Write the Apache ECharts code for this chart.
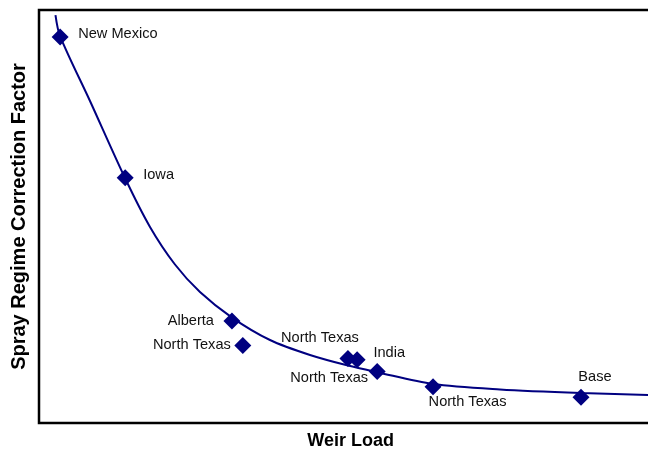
<!DOCTYPE html>
<html>
<head>
<meta charset="utf-8">
<script src="https://cdn.jsdelivr.net/npm/echarts@6/dist/echarts.min.js"></script>
<style>
  html, body { margin: 0; padding: 0; background: #fff; }
  #chart { width: 648px; height: 450px; }
</style>
</head>
<body>
<div id="chart"></div>
<script>
// Plant sites and their measured spray-regime correction factors
const siteNames = ['New Mexico', 'Iowa', 'Alberta', 'North Texas', 'North Texas', 'North Texas', 'India', 'North Texas', 'Base'];
const weirLoad = [0.39, 1.59, 3.56, 3.76, 5.70, 5.87, 6.24, 7.27, 10.0];
const correctionFactor = [3.79, 2.70, 1.59, 1.40, 1.30, 1.29, 1.20, 1.08, 1.00];

// Fitted correction curve
const curveLoad = [0.304, 0.387, 0.941, 1.587, 2.048, 2.509, 2.970, 3.561, 4.262, 5.000, 5.701, 6.236, 7.269, 8.506, 10.0, 11.236, 11.5];
const curveFactor = [3.961, 3.800, 3.295, 2.698, 2.319, 2.028, 1.815, 1.617, 1.443, 1.327, 1.245, 1.194, 1.102, 1.060, 1.032, 1.017, 1.012];

// Label placement for each site marker: [align, dx, dy]
const labelPlacement = [
  ['left', 18, -3.5],
  ['left', 18, -3],
  ['right', -18, 0],
  ['right', -12, -1],
  ['center', -28, -21],
  ['center', -28, 18],
  ['center', 12, -18],
  ['center', 34.5, 15],
  ['center', 14, -20]
];

const NAVY = '#000080';
const FONT = 'Liberation Sans, Arial, sans-serif';

const pointData = weirLoad.map((x, i) => ({
  value: [x, correctionFactor[i]],
  name: siteNames[i],
  label: {
    show: true,
    position: 'inside',
    align: labelPlacement[i][0],
    verticalAlign: 'middle',
    offset: [labelPlacement[i][1], labelPlacement[i][2]],
    formatter: siteNames[i],
    color: '#111',
    fontSize: 14.6,
    fontFamily: FONT
  }
}));

const chart = echarts.init(document.getElementById('chart'), null, { renderer: 'canvas' });
chart.setOption({
  animation: false,
  backgroundColor: '#fff',
  grid: {
    left: 39, top: 10, width: 623.3, height: 413,
    containLabel: false,
    outerBoundsMode: 'none',
    show: true, borderColor: '#000', borderWidth: 2.5, backgroundColor: 'transparent'
  },
  xAxis: {
    type: 'value', min: 0, max: 11.5,
    axisLine: { show: false }, axisTick: { show: false },
    axisLabel: { show: false }, splitLine: { show: false },
    name: 'Weir Load', nameLocation: 'middle', nameGap: 9,
    nameTextStyle: { fontSize: 18, fontWeight: 'bold', color: '#000', fontFamily: FONT }
  },
  yAxis: {
    type: 'value', min: 0.8, max: 4.0,
    axisLine: { show: false }, axisTick: { show: false },
    axisLabel: { show: false }, splitLine: { show: false },
    name: 'Spray Regime Correction Factor', nameLocation: 'middle', nameGap: 10,
    nameTextStyle: { fontSize: 20, fontWeight: 'bold', color: '#000', fontFamily: FONT }
  },
  series: [
    {
      type: 'line',
      data: curveLoad.map((x, i) => [x, curveFactor[i]]),
      smooth: 0.3,
      showSymbol: false,
      clip: true,
      lineStyle: { color: NAVY, width: 2 },
      silent: true,
      z: 2
    },
    {
      type: 'scatter',
      data: pointData,
      symbol: 'diamond',
      symbolSize: 17,
      itemStyle: { color: NAVY, opacity: 1 },
      z: 3
    }
  ]
});
</script>
</body>
</html>
